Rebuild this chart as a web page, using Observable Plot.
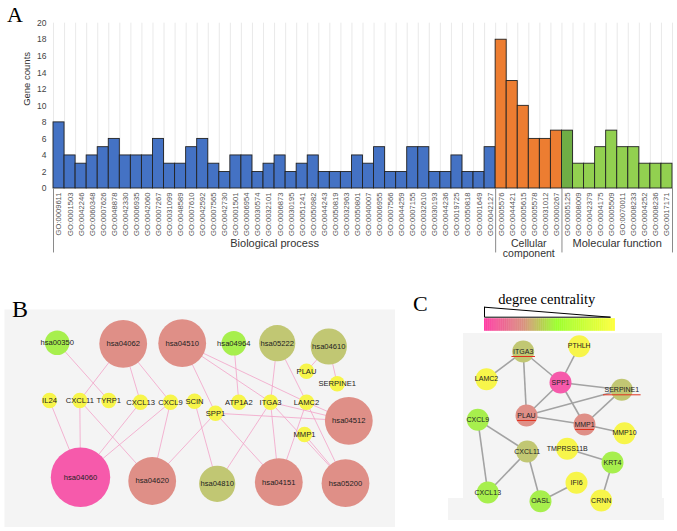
<!DOCTYPE html>
<html>
<head>
<meta charset="utf-8">
<script src="https://cdn.jsdelivr.net/npm/d3@7"></script>
<script src="https://cdn.jsdelivr.net/npm/@observablehq/plot@0.6"></script>
<style>
  html, body { margin: 0; padding: 0; background: #fff; }
  #root { position: relative; width: 677px; height: 531px; overflow: hidden; font-family: "Liberation Sans", Arial, sans-serif; }
  .abs { position: absolute; }
  .plabel { position: absolute; font-family: "Liberation Serif", "Times New Roman", serif; line-height: 1; color: #000; z-index: 5; }
  .bg { position: absolute; background: #f4f4f4; }
</style>
</head>
<body>
<div id="root">
  <div class="bg" style="left:463px;top:333px;width:199px;height:187px;"></div>
  <div class="bg" style="left:448px;top:498px;width:216px;height:22px;"></div>
  <div id="chartA" class="abs" style="left:0;top:0;"></div>
  <div id="chartB" class="abs" style="left:4px;top:309px;"></div>
  <div id="chartC" class="abs" style="left:440px;top:333px;"></div>
  <div id="legendC" class="abs" style="left:478px;top:290px;"></div>
  <div class="plabel" style="left:7px;top:4px;font-size:22px;">A</div>
  <div class="plabel" style="left:12px;top:297px;font-size:24px;">B</div>
  <div class="plabel" style="left:413px;top:293px;font-size:22px;">C</div>
</div>
<script>
// ---------------- Panel A data ----------------
const bpIds = ["GO:0009611","GO:0001503","GO:0042246","GO:0060348","GO:0007626","GO:0048878","GO:0042330","GO:0006935","GO:0042060","GO:0007267","GO:0031099","GO:0048589","GO:0007610","GO:0042592","GO:0007565","GO:0042730","GO:0001501","GO:0006954","GO:0030574","GO:0032101","GO:0006873","GO:0030195","GO:0051241","GO:0050982","GO:0044243","GO:0050819","GO:0032963","GO:0050801","GO:0040007","GO:0006955","GO:0007566","GO:0044259","GO:0007155","GO:0032610","GO:0030193","GO:0044236","GO:0019725","GO:0050818","GO:0001649","GO:0042127"];
const bpVals = [8,4,3,4,5,6,4,4,4,6,3,3,5,6,3,2,4,4,2,3,4,2,3,4,2,2,2,4,3,5,2,2,5,5,2,2,4,2,2,5];
const ccIds = ["GO:0005576","GO:0044421","GO:0005615","GO:0005578","GO:0031012","GO:0000267"];
const ccVals = [18,13,10,6,6,7];
const mfIds = ["GO:0005125","GO:0008009","GO:0042379","GO:0004175","GO:0005509","GO:0070011","GO:0008233","GO:0004252","GO:0008236","GO:0017171"];
const mfVals = [7,3,3,5,7,5,5,3,3,3];
const groupNames = ["Biological process", "Cellular\ncomponent", "Molecular function"];
const yTicks = [0,2,4,6,8,10,12,14,16,18,20];

// ---------------- Panel B data ----------------
const pathNames = ["hsa00350","hsa04062","hsa04510","hsa04964","hsa05222","hsa04610","hsa04512","hsa04060","hsa04620","hsa04810","hsa04151","hsa05200"];
const pathX = [52.7,118.7,177.7,229.3,272.7,324.3,344.3,76,147.7,212.7,274.3,341];
const pathY = [33.3,34.3,33.7,33.7,33.7,37,111.3,167.7,171.5,174.3,172.7,173.7];
const geneNames = ["PLAU","SERPINE1","IL24","CXCL11","TYRP1","CXCL13","CXCL9","SCIN","SPP1","ATP1A2","ITGA3","LAMC2","MMP1"];
const geneX = [302,332.7,45,75.3,104.3,136,166,190,211,234.3,266,302,300];
const geneY = [61.7,74.3,91,91,91,92.7,92.7,91.7,103.7,92.7,92.7,92.7,125];
const bEdges = [
  ["hsa00350","TYRP1"],["hsa04062","CXCL11"],["hsa04062","CXCL13"],["hsa04062","CXCL9"],
  ["hsa04510","SPP1"],["hsa04510","ITGA3"],["hsa04510","LAMC2"],["hsa04964","ATP1A2"],
  ["hsa05222","ITGA3"],["hsa05222","LAMC2"],["hsa04610","PLAU"],["hsa04610","SERPINE1"],
  ["hsa04060","IL24"],["hsa04060","CXCL11"],["hsa04060","CXCL13"],["hsa04060","CXCL9"],
  ["hsa04620","CXCL11"],["hsa04620","CXCL9"],["hsa04620","SPP1"],
  ["hsa04810","SCIN"],["hsa04810","ITGA3"],
  ["hsa04151","SPP1"],["hsa04151","ITGA3"],["hsa04151","LAMC2"],
  ["hsa04512","SPP1"],["hsa04512","ITGA3"],["hsa04512","LAMC2"],
  ["hsa05200","ITGA3"],["hsa05200","LAMC2"],["hsa05200","MMP1"]
];

// ---------------- Panel C data ----------------
const cNames = ["ITGA3","PTHLH","LAMC2","SPP1","SERPINE1","PLAU","MMP1","MMP10","CXCL9","CXCL11","TMPRSS11B","KRT4","IFI6","CXCL13","OASL","CRNN"];
const cX = [82.7,138.7,46,120,181.3,86,144,184,37.3,86.7,126.7,172,136,47.3,100,160.7];
const cY = [18,12.7,45.7,49,56.3,82,91,99.7,86.3,118,115.3,129,149.3,159,167.7,167];
const cEdges = [
  ["ITGA3","LAMC2"],["ITGA3","SPP1"],["ITGA3","PLAU"],["PTHLH","SPP1"],["SPP1","SERPINE1"],
  ["SPP1","PLAU"],["SPP1","MMP1"],["PLAU","SERPINE1"],["PLAU","MMP1"],["SERPINE1","MMP1"],
  ["MMP1","MMP10"],["CXCL9","CXCL11"],["CXCL9","CXCL13"],["CXCL11","CXCL13"],["CXCL11","OASL"],
  ["OASL","IFI6"],["TMPRSS11B","KRT4"],["KRT4","CRNN"]
];
const cHubs = ["ITGA3","SERPINE1","PLAU","MMP1"];
const legendTitle = "degree centrality";

// ---------------- colours ----------------
const PINK = "#f65aab", SALMON = "#df8f87", OLIVE = "#c1c773", GREEN = "#a7ef4d", YELLOW = "#f7f54a";
const FONT = "'Liberation Sans', Arial, sans-serif";

// ================= Panel A =================
const rows = [];
[[bpIds, bpVals, "BP"], [ccIds, ccVals, "CC"], [mfIds, mfVals, "MF"]].forEach(([ids, vals, g]) => {
  ids.forEach((id, k) => rows.push({id, v: vals[k], g, k}));
});
rows.forEach((d, i) => { d.i = i; d.i2 = i + 1; });
const nBP = bpIds.length, nCC = ccIds.length, N = rows.length;
const bounds = [0, nBP, nBP + nCC, N];
const groupRows = groupNames.map((name, j) => ({name, c: (bounds[j] + bounds[j + 1]) / 2, two: name.includes("\n")}));
const barFill = d => d.g === "BP" ? "#4472c4" : d.g === "CC" ? "#ed7d31" : (d.k === 0 ? "#6fae45" : "#92d050");

const chartA = Plot.plot({
  width: 677, height: 262,
  marginLeft: 53, marginRight: 5, marginTop: 22.7, marginBottom: 74,
  x: {domain: [0, N]},
  y: {domain: [0, 20]},
  style: {background: "transparent", fontFamily: FONT, overflow: "visible"},
  marks: [
    Plot.ruleX(d3.range(N + 1), {x: d => d, y1: 0, y2: 20, stroke: "#e3e3e3", strokeWidth: 0.8}),
    Plot.rect(rows, {x1: "i", x2: "i2", y1: 0, y2: "v", fill: barFill, stroke: "#222", strokeWidth: 0.9}),
    Plot.axisY({ticks: yTicks, tickSize: 0, tickPadding: 7, fontSize: 8.5, fill: "#444", label: null}),
    Plot.text(["Gene counts"], {frameAnchor: "left", dx: -27, rotate: -90, fontSize: 9.5, fill: "#333"}),
    Plot.axisX({ticks: rows.map(d => d.i + 0.5), tickFormat: t => rows[Math.floor(t)].id, tickRotate: -90, tickSize: 0, tickPadding: 4, fontSize: 7.6, fill: "#555", label: null}),
    Plot.ruleX(bounds, {x: d => d, y1: 0, y2: -7.8, stroke: "#8a8a8a", strokeWidth: 1}),
    Plot.text(groupRows.filter(d => !d.two), {x: "c", y: -6.6, text: "name", fontSize: 11, fill: "#333"}),
    Plot.text(groupRows.filter(d => d.two), {x: "c", y: -7.25, text: "name", fontSize: 10.5, lineHeight: 1.0, fill: "#333"})
  ]
});
document.getElementById("chartA").appendChild(chartA);

// ================= Panel B =================
const bDeg = new Map(pathNames.map(n => [n, 0]));
bEdges.forEach(([p]) => bDeg.set(p, bDeg.get(p) + 1));
const pathRows = pathNames.map((name, i) => ({name, x: pathX[i], y: pathY[i], deg: bDeg.get(name)}));
const geneRows = geneNames.map((name, i) => ({name, x: geneX[i], y: geneY[i]}));
const bPos = new Map([...pathRows, ...geneRows].map(d => [d.name, d]));
const bLinks = bEdges.map(([a, b]) => ({a: bPos.get(a), b: bPos.get(b)}));

const chartB = Plot.plot({
  width: 391, height: 218, margin: 0,
  x: {domain: [0, 391], range: [0, 391], axis: null},
  y: {domain: [0, 218], range: [0, 218], axis: null},
  r: {type: "linear", domain: [1, 4], range: [12.3, 29.7]},
  color: {type: "ordinal", domain: [1, 2, 3, 4], range: [GREEN, OLIVE, SALMON, PINK]},
  style: {background: "transparent", fontFamily: FONT},
  marks: [
    Plot.frame({fill: "#f4f4f4", stroke: "none"}),
    Plot.link(bLinks, {x1: d => d.a.x, y1: d => d.a.y, x2: d => d.b.x, y2: d => d.b.y, stroke: "#f2a2c8", strokeWidth: 0.8}),
    Plot.dot(pathRows, {x: "x", y: "y", r: "deg", fill: "deg", stroke: "none"}),
    Plot.dot(geneRows, {x: "x", y: "y", r: 7.7, fill: YELLOW, stroke: "none"}),
    Plot.text([...pathRows, ...geneRows], {x: "x", y: "y", text: "name", fontSize: 7.6, fill: "#222"})
  ]
});
document.getElementById("chartB").appendChild(chartB);

// ================= Panel C =================
const cDeg = new Map(cNames.map(n => [n, 0]));
cEdges.forEach(([a, b]) => { cDeg.set(a, cDeg.get(a) + 1); cDeg.set(b, cDeg.get(b) + 1); });
const cRows = cNames.map((name, i) => ({name, x: cX[i], y: cY[i], deg: cDeg.get(name)}));
const cPos = new Map(cRows.map(d => [d.name, d]));
const cLinks = cEdges.map(([a, b]) => ({a: cPos.get(a), b: cPos.get(b)}));
const hubRows = cHubs.map(n => cPos.get(n));

const chartC = Plot.plot({
  width: 237, height: 190, margin: 0,
  x: {domain: [0, 237], range: [0, 237], axis: null},
  y: {domain: [0, 190], range: [0, 190], axis: null},
  color: {type: "ordinal", domain: [1, 2, 3, 4, 5], range: [YELLOW, GREEN, OLIVE, SALMON, PINK]},
  style: {background: "transparent", fontFamily: FONT},
  marks: [
    Plot.link(cLinks, {x1: d => d.a.x, y1: d => d.a.y, x2: d => d.b.x, y2: d => d.b.y, stroke: "#a3a3a3", strokeWidth: 1.6}),
    Plot.dot(cRows, {x: "x", y: "y", r: 11, fill: "deg", stroke: "none"}),
    Plot.text(cRows, {x: "x", y: "y", text: "name", fontSize: 7, fill: "#222"}),
    Plot.link(hubRows, {x1: d => d.x - d.name.length * 2.35, x2: d => d.x + d.name.length * 2.35, y1: d => d.y + 5, y2: d => d.y + 5, stroke: "#e0321f", strokeWidth: 1})
  ]
});
document.getElementById("chartC").appendChild(chartC);

// degree-centrality legend (gradient bar + wedge)
const steps = d3.range(0, 1, 0.005);
const wedge = [{x: 0, y: 16.7}, {x: 0, y: 26.7}, {x: 0.962, y: 26.7}, {x: 0, y: 16.7}];
const legendC = Plot.plot({
  width: 142, height: 44, marginLeft: 6, marginRight: 5, marginTop: 0, marginBottom: 0,
  x: {domain: [0, 1], axis: null},
  y: {domain: [0, 44], range: [0, 44], axis: null},
  color: {type: "linear", domain: [0, 0.3, 0.55, 1], range: ["#ff3ea5", "#d9937f", "#9cff2e", "#ffff3c"], interpolate: "rgb"},
  style: {background: "transparent", fontFamily: "'Liberation Serif', 'Times New Roman', serif", overflow: "visible"},
  marks: [
    Plot.rect(steps, {x1: d => d, x2: d => Math.min(1, d + 0.008), y1: 28.3, y2: 40.7, fill: d => d}),
    Plot.line(wedge, {x: "x", y: "y", stroke: "#000", strokeWidth: 1}),
    Plot.text([legendTitle], {x: 0.476, y: 9.3, text: d => d, fontSize: 14.5, fill: "#000"})
  ]
});
document.getElementById("legendC").appendChild(legendC);
</script>
</body>
</html>
